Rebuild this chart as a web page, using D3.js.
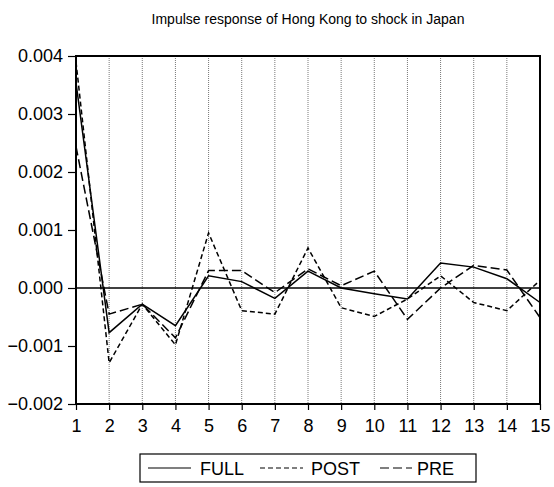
<!DOCTYPE html>
<html>
<head>
<meta charset="utf-8">
<script src="https://cdn.jsdelivr.net/npm/d3@7"></script>
<style>
  body { margin: 0; background: #fff; }
  text { font-family: "Liberation Sans", Arial, sans-serif; }
</style>
</head>
<body>
<div id="chart"></div>
<script>
// impulse response data
const periods = [1,2,3,4,5,6,7,8,9,10,11,12,13,14,15];
const full = [0.00354,-0.00077,-0.00028,-0.00065,0.00021,0.00011,-0.00018,0.00029,0.0,-0.0001,-0.00019,0.00043,0.00036,0.00016,-0.00025];
const post = [0.0039,-0.00129,-0.00028,-0.00098,0.00095,-0.00039,-0.00045,0.00069,-0.00034,-0.00049,-0.00019,0.00021,-0.00025,-0.00039,0.00013];
const pre  = [0.00244,-0.00045,-0.00028,-0.00086,0.0003,0.0003,-0.00008,0.00033,0.00004,0.00029,-0.00054,0.0,0.00039,0.00031,-0.00051];
const yTicks = [-0.002,-0.001,0,0.001,0.002,0.003,0.004];
const seriesNames = ["FULL","POST","PRE"];

const W = 554, H = 487;
const margin = {top: 56, right: 14, bottom: 83, left: 76};
const width = W - margin.left - margin.right,
      height = H - margin.top - margin.bottom;

const svg = d3.select("#chart").append("svg")
  .attr("width", W).attr("height", H);

svg.append("text")
  .attr("x", 308).attr("y", 24)
  .attr("text-anchor", "middle")
  .attr("font-size", 14)
  .text("Impulse response of Hong Kong to shock in Japan");

const g = svg.append("g").attr("transform", `translate(${margin.left},${margin.top})`);

const x = d3.scaleLinear().domain([1, 15]).range([0, width]);
const y = d3.scaleLinear().domain([-0.002, 0.004]).range([height, 0]);

// dotted vertical grid
g.append("g")
  .selectAll("line")
  .data(periods.slice(1, -1))
  .enter().append("line")
    .attr("x1", d => x(d)).attr("x2", d => x(d))
    .attr("y1", 0).attr("y2", height)
    .attr("stroke", "#555")
    .attr("stroke-width", 0.8)
    .attr("stroke-dasharray", "1,1");

// zero line
g.append("line")
  .attr("x1", 0).attr("x2", width)
  .attr("y1", y(0)).attr("y2", y(0))
  .attr("stroke", "#000").attr("stroke-width", 1.5);

const styles = {FULL: null, POST: "5,3", PRE: "9,4"};
const data = {FULL: full, POST: post, PRE: pre};

const line = d3.line()
  .x((d, i) => x(periods[i]))
  .y(d => y(d));

seriesNames.forEach(function(name) {
  g.append("path")
    .datum(data[name])
    .attr("fill", "none")
    .attr("stroke", "#000")
    .attr("stroke-width", 1.5)
    .attr("stroke-dasharray", styles[name])
    .attr("d", line);
});

// axes
const yAxis = g.append("g")
  .call(d3.axisLeft(y).tickValues(yTicks).tickFormat(d3.format(".3f")).tickSize(8).tickSizeOuter(0));
const xAxis = g.append("g")
  .attr("transform", `translate(0,${height})`)
  .call(d3.axisBottom(x).tickValues(periods).tickFormat(d3.format("d")).tickSize(6).tickSizeOuter(0));

[xAxis, yAxis].forEach(a => {
  a.select(".domain").remove();
  a.selectAll("line").attr("stroke", "#000").attr("stroke-width", 1.2);
  a.selectAll("text").attr("font-size", 18).attr("fill", "#000")
    .attr("font-family", "'Liberation Sans', Arial, sans-serif");
});
yAxis.selectAll("text").attr("x", -13);
xAxis.selectAll("text").attr("y", 15);

// frame
g.append("rect")
  .attr("x", 0).attr("y", 0)
  .attr("width", width).attr("height", height)
  .attr("fill", "none").attr("stroke", "#000").attr("stroke-width", 2);

// legend
const legend = svg.append("g");
legend.append("rect")
  .attr("x", 140).attr("y", 454)
  .attr("width", 336).attr("height", 28)
  .attr("fill", "none").attr("stroke", "#000").attr("stroke-width", 1.2);

const legendPos = [{x1: 148, x2: 191, tx: 200}, {x1: 260, x2: 303, tx: 311}, {x1: 380, x2: 412, tx: 417}];
seriesNames.forEach(function(name, i) {
  const p = legendPos[i];
  legend.append("line")
    .attr("x1", p.x1).attr("x2", p.x2)
    .attr("y1", 468).attr("y2", 468)
    .attr("stroke", "#000").attr("stroke-width", 1.2)
    .attr("stroke-dasharray", styles[name]);
  legend.append("text")
    .attr("x", p.tx).attr("y", 475)
    .attr("font-size", 18)
    .text(name);
});
</script>
</body>
</html>
